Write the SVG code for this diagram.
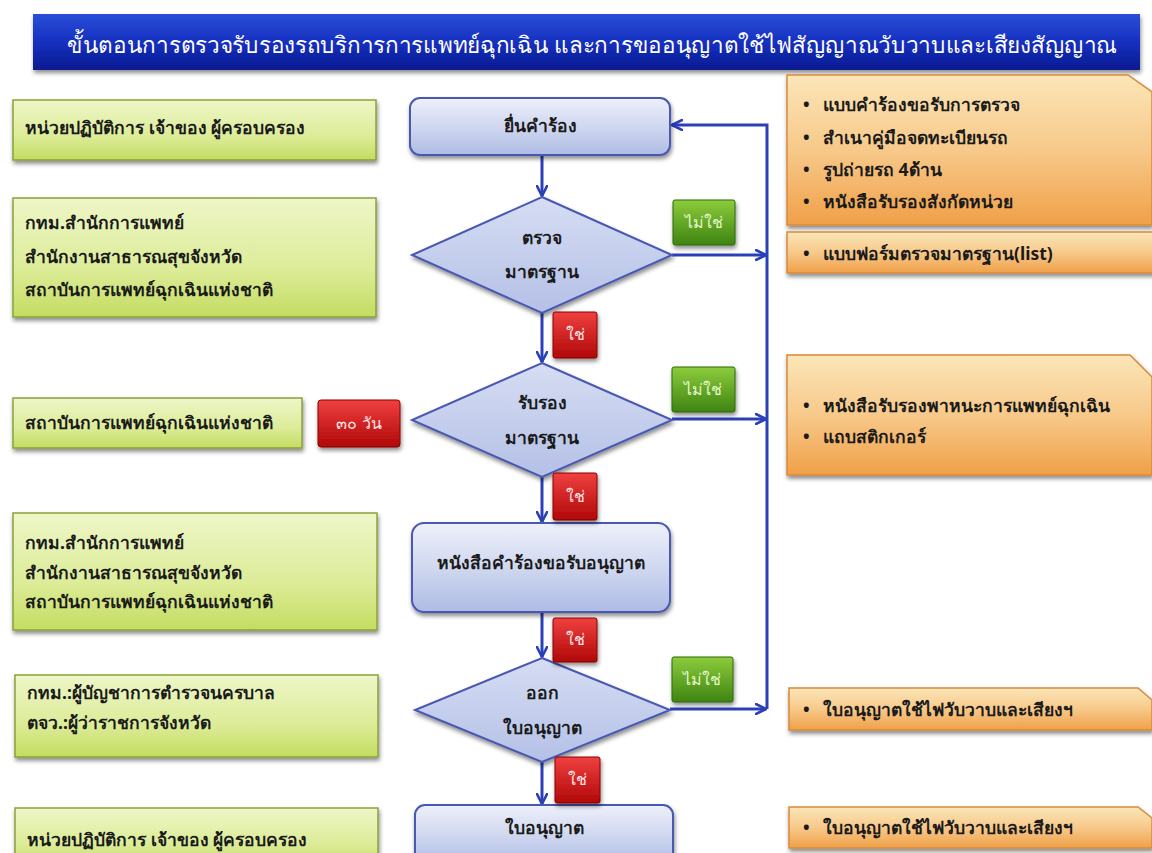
<svg xmlns="http://www.w3.org/2000/svg" width="1152" height="853" viewBox="0 0 1152 853">
<defs>
<linearGradient id="gTitle" x1="0" y1="0" x2="0" y2="1">
<stop offset="0" stop-color="#2a4fd8"/><stop offset="0.5" stop-color="#1530c0"/><stop offset="1" stop-color="#0a1a90"/>
</linearGradient>
<linearGradient id="gGreen" x1="0" y1="0" x2="0" y2="1">
<stop offset="0" stop-color="#eef6c8"/><stop offset="0.6" stop-color="#dcec98"/><stop offset="1" stop-color="#c4dc60"/>
</linearGradient>
<linearGradient id="gOrange" x1="0" y1="0" x2="0" y2="1">
<stop offset="0" stop-color="#fbe6b8"/><stop offset="0.5" stop-color="#f7c98a"/><stop offset="1" stop-color="#f0a048"/>
</linearGradient>
<linearGradient id="gBlue" x1="0" y1="0" x2="0" y2="1">
<stop offset="0" stop-color="#eef0fa"/><stop offset="0.5" stop-color="#d0d8f0"/><stop offset="1" stop-color="#aebbe4"/>
</linearGradient>
<linearGradient id="gDiam" x1="0" y1="0" x2="0" y2="1">
<stop offset="0" stop-color="#d6ddf3"/><stop offset="1" stop-color="#b4c0e6"/>
</linearGradient>
<linearGradient id="gRed" x1="0" y1="0" x2="0" y2="1">
<stop offset="0" stop-color="#f04040"/><stop offset="1" stop-color="#b00808"/>
</linearGradient>
<linearGradient id="gGreenBadge" x1="0" y1="0" x2="0" y2="1">
<stop offset="0" stop-color="#8ccc3c"/><stop offset="1" stop-color="#3e8412"/>
</linearGradient>
<filter id="sh" x="-10%" y="-10%" width="125%" height="140%">
<feDropShadow dx="1" dy="3" stdDeviation="2" flood-color="#000" flood-opacity="0.45"/>
</filter>
<marker id="arr" viewBox="0 0 12 12" refX="11" refY="6" markerWidth="12" markerHeight="12" markerUnits="userSpaceOnUse" orient="auto">
<path d="M1,1 L11,6 L1,11" fill="none" stroke="#2a40b8" stroke-width="2.6" stroke-linejoin="round" stroke-linecap="round"/>
</marker>
</defs>
<style>
text { font-family: "Noto Sans", "DejaVu Sans", "Liberation Sans", sans-serif; }
.t { font-size: 17.5px; font-weight: bold; fill: #1a1a1a; }
.c { font-size: 17.5px; font-weight: bold; fill: #1a1a1a; text-anchor: middle; }
.green { fill: url(#gGreen); stroke: #8aa23a; stroke-width: 1.5; filter: url(#sh); }
.orange { fill: url(#gOrange); stroke: #d88a3a; stroke-width: 1.5; filter: url(#sh); }
.proc { fill: url(#gBlue); stroke: #4858b0; stroke-width: 2; filter: url(#sh); }
.diam { fill: url(#gDiam); stroke: #4858b0; stroke-width: 2; filter: url(#sh); }
.red { fill: url(#gRed); stroke: #8a0000; stroke-width: 1; filter: url(#sh); }
.gb { fill: url(#gGreenBadge); stroke: #2e6a0a; stroke-width: 1; filter: url(#sh); }
.bt { font-size: 16px; fill: #ffe8e8; text-anchor: middle; }
.gt { font-size: 16px; fill: #e6f6c8; text-anchor: middle; }
.conn { fill: none; stroke: #2a40b8; stroke-width: 3; }
</style>
<rect width="1152" height="853" fill="#ffffff"/>

<g id="title">
<rect x="33" y="14" width="1107" height="56" fill="url(#gTitle)" filter="url(#sh)"/>
<text x="592" y="53" font-size="23" fill="#ffffff" text-anchor="middle" textLength="1050" lengthAdjust="spacingAndGlyphs">ขั้นตอนการตรวจรับรองรถบริการการแพทย์ฉุกเฉิน และการขออนุญาตใช้ไฟสัญญาณวับวาบและเสียงสัญญาณ</text>
</g>

<g id="left1"><rect class="green" x="13" y="100" width="363" height="60"/><text class="t" x="25" y="134">หน่วยปฏิบัติการ เจ้าของ ผู้ครอบครอง</text></g>
<g id="left2"><rect class="green" x="13" y="198" width="363" height="119"/>
<text class="t" x="25" y="229">กทม.สำนักการแพทย์</text>
<text class="t" x="25" y="263">สำนักงานสาธารณสุขจังหวัด</text>
<text class="t" x="25" y="296">สถาบันการแพทย์ฉุกเฉินแห่งชาติ</text></g>
<g id="left3"><rect class="green" x="13" y="398" width="289" height="50"/><text class="t" x="25" y="429">สถาบันการแพทย์ฉุกเฉินแห่งชาติ</text></g>
<g id="days"><rect class="red" x="318" y="400" width="82" height="47" rx="3"/><text class="bt" x="359" y="429">๓๐ วัน</text></g>
<g id="left4"><rect class="green" x="13" y="513" width="364" height="117"/>
<text class="t" x="25" y="549">กทม.สำนักการแพทย์</text>
<text class="t" x="25" y="579">สำนักงานสาธารณสุขจังหวัด</text>
<text class="t" x="25" y="608">สถาบันการแพทย์ฉุกเฉินแห่งชาติ</text></g>
<g id="left5"><rect class="green" x="15" y="675" width="363" height="82"/>
<text class="t" x="27" y="699">กทม.:ผู้บัญชาการตำรวจนครบาล</text>
<text class="t" x="27" y="729">ตจว.:ผู้ว่าราชการจังหวัด</text></g>
<g id="left6"><rect class="green" x="15" y="808" width="363" height="60"/><text class="t" x="27" y="846">หน่วยปฏิบัติการ เจ้าของ ผู้ครอบครอง</text></g>

<g id="connectors">
<path class="conn" d="M542,155 L542,196" marker-end="url(#arr)"/>
<path class="conn" d="M542,313 L542,362" marker-end="url(#arr)"/>
<path class="conn" d="M542,477 L542,522" marker-end="url(#arr)"/>
<path class="conn" d="M542,612 L542,657" marker-end="url(#arr)"/>
<path class="conn" d="M542,762 L542,804" marker-end="url(#arr)"/>
<path class="conn" d="M672,255 L766,255" marker-end="url(#arr)"/>
<path class="conn" d="M672,419 L766,419" marker-end="url(#arr)"/>
<path class="conn" d="M670,709 L766,709" marker-end="url(#arr)"/>
<path class="conn" d="M767,709 L767,125 L672,125" marker-end="url(#arr)"/>
</g>

<g id="p1"><rect class="proc" x="410" y="98" width="260" height="57" rx="10"/><text class="c" x="540" y="132">ยื่นคำร้อง</text></g>
<g id="d1"><polygon class="diam" points="542,197 672,255 542,313 412,255"/>
<text class="c" x="542" y="244">ตรวจ</text><text class="c" x="542" y="278">มาตรฐาน</text></g>
<g id="d2"><polygon class="diam" points="542,363 672,420 542,477 412,420"/>
<text class="c" x="542" y="409">รับรอง</text><text class="c" x="542" y="444">มาตรฐาน</text></g>
<g id="p2"><rect class="proc" x="412" y="523" width="258" height="89" rx="12"/><text class="c" x="541" y="569">หนังสือคำร้องขอรับอนุญาต</text></g>
<g id="d3"><polygon class="diam" points="542,658 670,710 542,762 415,710"/>
<text class="c" x="542" y="699">ออก</text><text class="c" x="542" y="734">ใบอนุญาต</text></g>
<g id="p3"><rect class="proc" x="415" y="805" width="258" height="60" rx="10"/><text class="c" x="544" y="834">ใบอนุญาต</text></g>

<g id="yes1"><rect class="red" x="553" y="312" width="44" height="46" rx="2"/><text class="bt" x="575" y="340">ใช่</text></g>
<g id="yes2"><rect class="red" x="553" y="473" width="44" height="47" rx="2"/><text class="bt" x="575" y="502">ใช่</text></g>
<g id="yes3"><rect class="red" x="553" y="618" width="44" height="44" rx="2"/><text class="bt" x="575" y="645">ใช่</text></g>
<g id="yes4"><rect class="red" x="555" y="757" width="45" height="46" rx="2"/><text class="bt" x="577" y="785">ใช่</text></g>
<g id="no1"><rect class="gb" x="673" y="200" width="62" height="45" rx="2"/><text class="gt" x="704" y="228">ไม่ใช่</text></g>
<g id="no2"><rect class="gb" x="672" y="367" width="63" height="45" rx="2"/><text class="gt" x="703" y="395">ไม่ใช่</text></g>
<g id="no3"><rect class="gb" x="672" y="657" width="61" height="45" rx="2"/><text class="gt" x="702" y="685">ไม่ใช่</text></g>

<g id="docs1"><path class="orange" d="M787,75 L1128,75 L1152,92 L1152,225 L787,225 Z"/>
<text class="t" x="803" y="111">•</text><text class="t" x="823" y="111">แบบคำร้องขอรับการตรวจ</text>
<text class="t" x="803" y="144">•</text><text class="t" x="823" y="144">สำเนาคู่มือจดทะเบียนรถ</text>
<text class="t" x="803" y="176">•</text><text class="t" x="823" y="176">รูปถ่ายรถ 4ด้าน</text>
<text class="t" x="803" y="208">•</text><text class="t" x="823" y="208">หนังสือรับรองสังกัดหน่วย</text></g>
<g id="docs2"><rect class="orange" x="787" y="232" width="370" height="41"/>
<text class="t" x="803" y="260">•</text><text class="t" x="823" y="260">แบบฟอร์มตรวจมาตรฐาน(list)</text></g>
<g id="docs3"><path class="orange" d="M787,355 L1130,355 L1152,377 L1152,475 L787,475 Z"/>
<text class="t" x="803" y="412">•</text><text class="t" x="823" y="412">หนังสือรับรองพาหนะการแพทย์ฉุกเฉิน</text>
<text class="t" x="803" y="443">•</text><text class="t" x="823" y="443">แถบสติกเกอร์</text></g>
<g id="docs4"><path class="orange" d="M789,688 L1138,688 L1152,700 L1152,730 L789,730 Z"/>
<text class="t" x="803" y="716">•</text><text class="t" x="823" y="716">ใบอนุญาตใช้ไฟวับวาบและเสียงฯ</text></g>
<g id="docs5"><path class="orange" d="M789,807 L1138,807 L1152,818 L1152,848 L789,848 Z"/>
<text class="t" x="803" y="834">•</text><text class="t" x="823" y="834">ใบอนุญาตใช้ไฟวับวาบและเสียงฯ</text></g>
</svg>
